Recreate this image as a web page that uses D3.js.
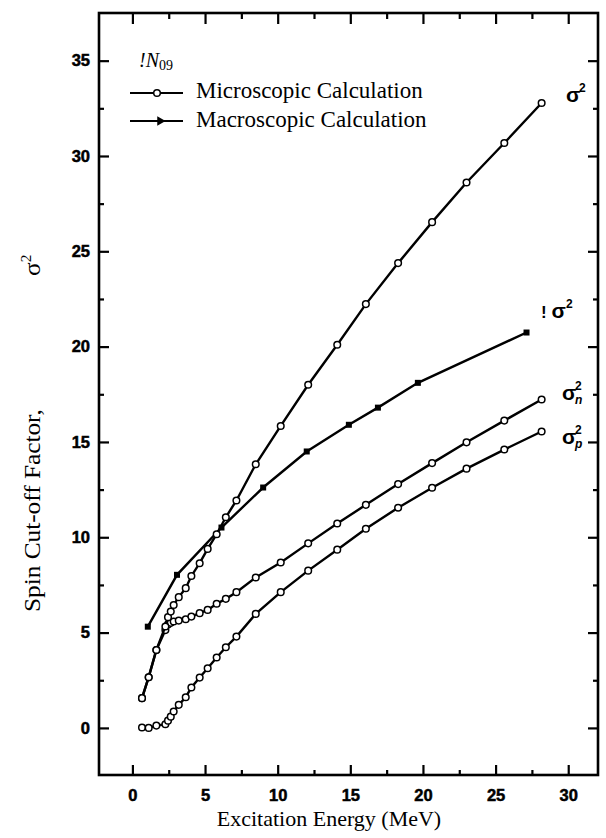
<!DOCTYPE html>
<html><head><meta charset="utf-8">
<script src="https://cdn.jsdelivr.net/npm/d3@7"></script>
<style>body{margin:0;background:#fff;} svg{display:block;}</style>
</head><body>
<script>
// ---- data ----
const energyMicro = [0.66,1.12,1.65,2.27,2.45,2.64,2.84,3.19,3.67,4.06,4.63,5.18,5.8,6.43,7.16,8.49,10.21,12.1,14.1,16.07,18.29,20.63,23.0,25.6,28.17];
const sigmaTotal  = [1.56,2.66,4.09,5.32,5.81,6.10,6.45,6.86,7.33,7.97,8.64,9.39,10.16,11.05,11.93,13.83,15.84,18.0,20.1,22.23,24.38,26.53,28.61,30.68,32.78];
const sigmaN      = [1.56,2.66,4.09,5.13,5.43,5.51,5.58,5.63,5.70,5.84,6.02,6.19,6.51,6.77,7.12,7.89,8.68,9.68,10.72,11.7,12.79,13.89,14.98,16.12,17.23];
const sigmaP      = [0.02,0.0,0.12,0.19,0.38,0.59,0.86,1.21,1.61,2.12,2.64,3.13,3.69,4.23,4.79,5.98,7.12,8.25,9.35,10.45,11.55,12.6,13.6,14.6,15.55];
const energyMacro = [1.06,3.07,6.13,9.0,12.0,14.9,16.9,19.65,27.13];
const sigmaMacro  = [5.31,8.03,10.51,12.61,14.5,15.9,16.8,18.1,20.74];
const xTicks = [0,5,10,15,20,25,30];
const yTicks = [0,5,10,15,20,25,30,35];
const xMinorTicks = [2.5,7.5,12.5,17.5,22.5,27.5];
const yMinorTicks = [2.5,7.5,12.5,17.5,22.5,27.5,32.5];
const legendLabels = ["Microscopic Calculation","Macroscopic Calculation"];
const xTitle = "Excitation Energy (MeV)";
const yTitle = "Spin Cut-off Factor,";

const W=606,H=838;
const L=99,R=598,T=13,B=775;
const svg = d3.select("body").append("svg").attr("width",W).attr("height",H);
const x = d3.scaleLinear().domain([-2.3,32.05]).range([L,R]);
const y = d3.scaleLinear().domain([-2.47,37.5]).range([B,T]);

const tickFont = "'Liberation Sans', Arial, sans-serif";
const serif = "'Liberation Serif','Times New Roman',serif";

function styleAxis(g){
  g.select(".domain").remove();
  g.selectAll(".tick line").attr("stroke","#000").attr("stroke-width",2.2);
  g.selectAll("text").attr("font-family",tickFont).attr("font-weight","bold").attr("font-size","16.5px")
    .attr("fill","#000").attr("stroke","#000").attr("stroke-width",0.5);
}
// major axes
svg.append("g").attr("transform",`translate(0,${B})`)
  .call(d3.axisBottom(x).tickValues(xTicks).tickSize(-10).tickPadding(14).tickFormat(d3.format("d"))).call(styleAxis);
svg.append("g").attr("transform",`translate(${L},0)`)
  .call(d3.axisLeft(y).tickValues(yTicks).tickSize(-10).tickPadding(9).tickFormat(d3.format("d"))).call(styleAxis);
svg.append("g").attr("transform",`translate(0,${T})`)
  .call(d3.axisTop(x).tickValues(xTicks).tickSize(-11).tickFormat("")).call(styleAxis);
svg.append("g").attr("transform",`translate(${R},0)`)
  .call(d3.axisRight(y).tickValues(yTicks).tickSize(-10).tickFormat("")).call(styleAxis);
// minor
svg.append("g").attr("transform",`translate(0,${B})`)
  .call(d3.axisBottom(x).tickValues(xMinorTicks).tickSize(-5).tickFormat("")).call(styleAxis);
svg.append("g").attr("transform",`translate(${L},0)`)
  .call(d3.axisLeft(y).tickValues(yMinorTicks).tickSize(-5).tickFormat("")).call(styleAxis);
svg.append("g").attr("transform",`translate(0,${T})`)
  .call(d3.axisTop(x).tickValues(xMinorTicks).tickSize(-6).tickFormat("")).call(styleAxis);
svg.append("g").attr("transform",`translate(${R},0)`)
  .call(d3.axisRight(y).tickValues(yMinorTicks).tickSize(-5).tickFormat("")).call(styleAxis);

// frame
svg.append("rect").attr("x",L).attr("y",T).attr("width",R-L).attr("height",B-T)
  .attr("fill","none").attr("stroke","#000").attr("stroke-width",2.6);

// series
const line = d3.line().x(d=>x(d[0])).y(d=>y(d[1]));
function drawCircles(E,S){
  const pts = E.map((e,i)=>[e,S[i]]);
  svg.append("path").datum(pts).attr("d",line).attr("fill","none").attr("stroke","#000").attr("stroke-width",2.4);
  svg.append("g").selectAll("circle").data(pts).join("circle")
    .attr("cx",d=>x(d[0])).attr("cy",d=>y(d[1])).attr("r",3.3)
    .attr("fill","#fff").attr("stroke","#000").attr("stroke-width",1.5);
}
const macroPts = energyMacro.map((e,i)=>[e,sigmaMacro[i]]);
svg.append("path").datum(macroPts).attr("d",line).attr("fill","none").attr("stroke","#000").attr("stroke-width",2.4);
svg.append("g").selectAll("rect").data(macroPts).join("rect")
  .attr("x",d=>x(d[0])-3).attr("y",d=>y(d[1])-3).attr("width",6).attr("height",6).attr("fill","#000");
drawCircles(energyMicro,sigmaP);
drawCircles(energyMicro,sigmaN);
drawCircles(energyMicro,sigmaTotal);

// legend
const lg = svg.append("g");
const nuc = lg.append("text").attr("x",139).attr("y",67).attr("font-family",serif).attr("font-style","italic").attr("font-size","20px");
nuc.append("tspan").text("!N");
nuc.append("tspan").attr("font-size","14px").attr("font-style","normal").attr("dy",3).text("09");
[[93,97.5,"c"],[121,126.5,"s"]].forEach((r,i)=>{
  lg.append("line").attr("x1",130).attr("x2",183).attr("y1",r[0]).attr("y2",r[0]).attr("stroke","#000").attr("stroke-width",2);
  if(r[2]==="c") lg.append("circle").attr("cx",157).attr("cy",r[0]).attr("r",3.3).attr("fill","#fff").attr("stroke","#000").attr("stroke-width",1.5);
  else lg.append("path").attr("d",d3.symbol(d3.symbolTriangle,40)()).attr("transform",`translate(160,${r[0]}) rotate(90)`).attr("fill","#000");
  lg.append("text").attr("x",196).attr("y",r[1]).attr("font-family",serif).attr("font-size","23px").text(legendLabels[i]);
});

// axis titles
svg.append("text").attr("x",329).attr("y",826).attr("text-anchor","middle").attr("font-family",serif).attr("font-size","22px").text(xTitle);
svg.append("text").attr("transform","translate(40,612) rotate(-90) scale(1.1,1)").attr("font-family",serif).attr("font-size","23px").text(yTitle);
const ys = svg.append("text").attr("transform","translate(40,276) rotate(-90) scale(1.1,1)").attr("font-family",serif).attr("font-size","23px");
ys.append("tspan").text("σ");
ys.append("tspan").attr("font-size","14px").attr("dy",-9).text("2");

// curve labels (one text element each, super/subscripts as tspans)
const lab = svg.append("g").attr("font-family",tickFont).attr("font-weight","bold").attr("fill","#000");
function sig(xp,yp,sub,pre){
  const t = lab.append("text").attr("x",xp).attr("y",yp).attr("font-size","21px");
  let sx = xp+13;
  if(pre){ t.append("tspan").attr("font-size","17px").text(pre+" "); sx = xp+25; }
  t.append("tspan").text("σ");
  t.append("tspan").attr("x",sx).attr("dy",-10).attr("font-size","12px").text("2");
  if(sub) t.append("tspan").attr("x",xp+13).attr("dy",14).attr("font-size","12px").attr("font-style","italic").text(sub);
}
sig(566,102);
sig(541,318,null,"!");
sig(562,400,"n");
sig(562,444,"p");
</script>
</body></html>
